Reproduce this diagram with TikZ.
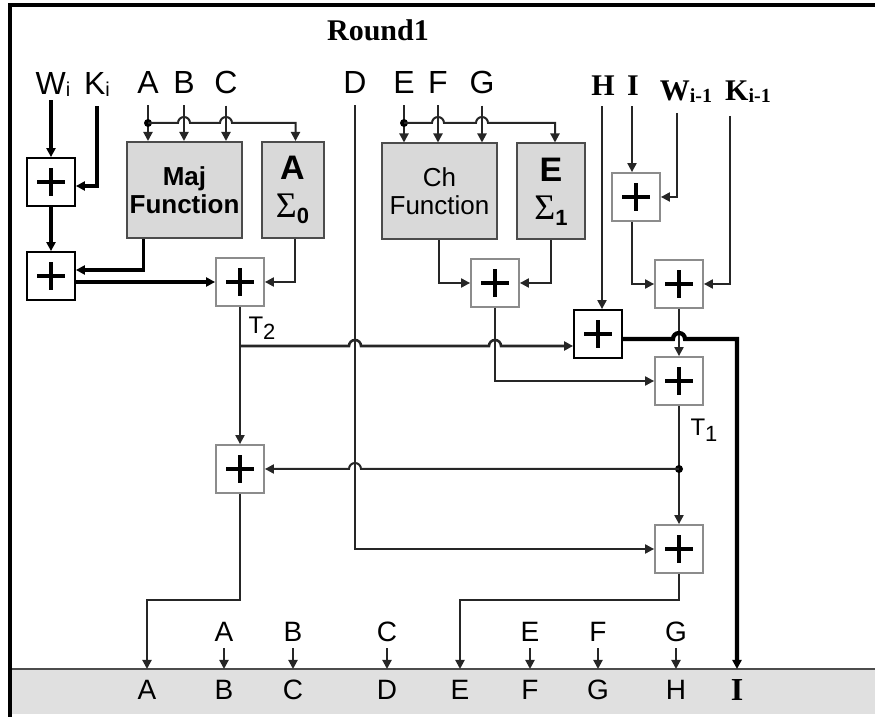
\documentclass[tikz,border=0pt]{standalone}
\usepackage{fontspec}
\setmainfont{Liberation Serif}
\setsansfont{Liberation Sans}
\usetikzlibrary{positioning, arrows.meta, calc}

\newcommand{\hop}{arc[start angle=180, end angle=0, radius=3pt]}
\newcommand{\lowsub}[1]{\raisebox{-1pt}{\fontsize{10}{10}\selectfont #1}}
\newcommand{\tsub}[1]{\raisebox{-3pt}{\fontsize{11}{11}\selectfont #1}}

\tikzset{
	wire/.style={draw=black!85, line width=1pt},
	bus/.style={draw=black, line width=1.7pt},
	heavy/.style={draw=black, line width=2.1pt},
	adder/.style={draw=black!45, line width=0.9pt, fill=white, minimum width=24pt, minimum height=24pt, inner sep=0pt,
		path picture={\draw[line width=2pt, black]
			($(path picture bounding box.center)+(-7pt,0pt)$) -- ++(14pt,0pt)
			($(path picture bounding box.center)+(0pt,-7pt)$) -- ++(0pt,14pt);}},
	adderk/.style={adder, draw=black},
	funcbox/.style={draw=black!70, line width=1pt, fill=black!15, align=center, inner sep=1pt,
		minimum width=57.5pt, minimum height=48pt, font=\sffamily\fontsize{13}{14}\selectfont},
	sigbox/.style={funcbox, minimum width=31pt},
	lbl/.style={font=\sffamily\fontsize{16}{16}\selectfont, inner sep=2pt},
	serlbl/.style={font=\bfseries\fontsize{13}{13}\selectfont, inner sep=2pt},
	outlbl/.style={font=\sffamily\fontsize{14}{14}\selectfont, inner sep=3pt},
	tlbl/.style={font=\sffamily\fontsize{12}{12}\selectfont, inner sep=0pt},
	title/.style={font=\bfseries\fontsize{15}{15}\selectfont}
}

\begin{document}
\begin{tikzpicture}[x=0.5pt, y=-0.5pt, >={Triangle[length=4.5pt, width=4.5pt]}]
	\useasboundingbox (0,0) rectangle (875,717);

	% Rahmen und Ausgabeband
	\fill[black!12] (10,669) rectangle (875,714);
	\coordinate (bandtop) at (0,669);
	\draw[black!70, line width=0.8pt] (10,669) -- (875,669);
	\draw[line width=2pt] (8,5) -- (875,5);
	\draw[line width=2pt] (10,5) -- (10,717);

	\node[title] (round) at (378,30) {Round1};

	% Eingaenge
	\node[lbl] (inW) at (53,84) {W\lowsub{i}};
	\node[lbl] (inK) at (97,84) {K\lowsub{i}};
	\node[lbl] (inA) at (148,82) {A};
	\node[lbl] (inB) at (184,82) {B};
	\node[lbl] (inC) at (226,82) {C};
	\node[lbl] (inD) at (355,82) {D};
	\node[lbl] (inE) at (404,82) {E};
	\node[lbl] (inF) at (438,82) {F};
	\node[lbl] (inG) at (482,82) {G};
	\node[serlbl] (inH) at (603,86) {\fontsize{15}{15}\selectfont H};
	\node[serlbl] (inI) at (633,86) {\fontsize{15}{15}\selectfont I};
	\node[serlbl] (inWm) at (686,92) {\fontsize{15}{15}\selectfont W\lowsub{i-1}};
	\node[serlbl] (inKm) at (748,92) {\fontsize{15}{15}\selectfont K\lowsub{i-1}};
	\coordinate (wmtop) at (677,113);
	\coordinate (kmtop) at (730,116);

	% Funktionsbloecke
	\node[funcbox, font=\sffamily\bfseries\fontsize{13}{14}\selectfont] (maj) at (184.5,190) {Maj\\Function};
	\node[sigbox] (sig0) at (292.5,190) {{\bfseries\fontsize{17}{17}\selectfont A}\\[5pt]{\rmfamily\fontsize{18}{18}\selectfont Σ}\tsub{\bfseries 0}};
	\node[funcbox] (ch) at (439.5,191.5) {Ch\\Function};
	\node[sigbox, minimum width=34pt] (sig1) at (551,191.5) {{\bfseries\fontsize{17}{17}\selectfont E}\\[5pt]{\rmfamily\fontsize{18}{18}\selectfont Σ}\tsub{\bfseries 1}};

	% Addierer
	\node[adderk] (add1) at (51,182) {};
	\node[adderk] (add2) at (51,276) {};
	\node[adder] (add3) at (240,282) {};
	\node[adder] (add4) at (495,283) {};
	\node[adder] (addIW) at (636,197) {};
	\node[adder] (addIWK) at (679,284) {};
	\node[adderk] (add5) at (598,334) {};
	\node[adder] (addT1) at (679,381) {};
	\node[adder] (add6) at (240,469) {};
	\node[adder] (add8) at (679,549) {};

	\node[tlbl] (lT2) at (262,328) {T\tsub{2}};
	\node[tlbl] (lT1) at (704,430) {T\tsub{1}};

	% Ausgaenge
	\foreach \n/\x in {A/147, B/224, C/293, D/387, E/460, F/530, G/598, H/676} {
		\node[outlbl] (out\n) at (\x,690) {\n};
	}
	\node[outlbl, font=\bfseries\fontsize{16}{16}\selectfont] (outI) at (737,690) {I};
	\foreach \n/\x in {A/224, B/293, C/387, E/530, F/598, G/676} {
		\node[outlbl] (s\n) at (\x,632) {\n};
		\draw[wire, ->] (s\n.south) -- (s\n |- bandtop);
	}

	% W und K links
	\draw[bus, ->] (add1 |- inW.south) -- (add1.north);
	\draw[bus, ->] ($(inK.south)+(0,6)$) |- ($(add1.east)+(0,4)$);
	\draw[bus, ->] (add1.south) -- (add2.north);
	\draw[bus, ->] ($(maj.south)+(-41,0)$) |- ($(add2.east)+(0,-6)$);
	\draw[bus, ->] ($(add2.east)+(0,6)$) -- (add3.west);
	\draw[wire, ->] ($(sig0.south)+(2,0)$) |- (add3.east);

	% Verteilung A, B, C
	\coordinate (tapA) at (148,123);
	\foreach \n in {A,B,C} {
		\draw[wire, ->] ($(in\n.south)+(0,8)$) -- (in\n |- maj.north);
	}
	\fill (tapA) circle (2pt);
	\draw[wire, ->] (tapA) -- ($(inB |- tapA)+(-6,0)$) \hop -- ($(inC |- tapA)+(-6,0)$) \hop -| ($(sig0.north)+(3,0)$);

	% Verteilung E, F, G
	\coordinate (tapE) at (404,123);
	\foreach \n in {E,F,G} {
		\draw[wire, ->] ($(in\n.south)+(0,8)$) -- (in\n |- ch.north);
	}
	\fill (tapE) circle (2pt);
	\draw[wire, ->] (tapE) -- ($(inF |- tapE)+(-6,0)$) \hop -- ($(inG |- tapE)+(-6,0)$) \hop -| ($(sig1.north)+(4,0)$);

	\draw[wire, ->] ($(ch.south)+(-1,0)$) |- (add4.west);
	\draw[wire, ->] (sig1.south) |- (add4.east);

	% rechte Seite
	\draw[wire, ->] ($(add5 |- inH.south)+(4,6)$) -- ($(add5.north)+(4,0)$);
	\draw[wire, ->] ($(addIW |- inI.south)+(-4,6)$) -- ($(addIW.north)+(-4,0)$);
	\draw[wire, ->] (wmtop) |- (addIW.east);
	\draw[wire, ->] (kmtop) |- (addIWK.east);
	\draw[wire, ->] ($(addIW.south)+(-4,0)$) |- (addIWK.west);
	\draw[wire, ->] (addIWK.south) -- (addT1.north);

	% T2 Pfad
	\coordinate (t2) at (add3 |- 0,346);
	\draw[wire, ->] (add3.south) -- (add6.north);
	\draw[wire, line width=1.3pt, ->] (t2) -- ($(inD |- t2)+(-6,0)$) \hop -- ($(add4 |- t2)+(-6,0)$) \hop -- (add5.west |- t2);
	\draw[wire, ->] (add4.south) |- (addT1.west);

	% H-Ausgang nach I
	\coordinate (o5) at ($(add5.east)+(0,5)$);
	\draw[heavy, ->] (o5) -- ($(addT1 |- o5)+(-6,0)$) \hop -- (outI |- o5) -- (outI |- bandtop);

	% T1 Pfad
	\draw[wire, ->] (addT1.south) -- (add8.north);
	\coordinate (t1dot) at (addT1 |- add6);
	\fill (t1dot) circle (2pt);
	\draw[wire, ->] (t1dot) -- ($(inD |- t1dot)+(6,0)$) arc[start angle=0, end angle=180, radius=3pt] -- (add6.east);
	\draw[wire, ->] ($(inD.south)+(0,8)$) |- (add8.west);

	% zu den Ausgaengen
	\coordinate (turn) at (0,600);
	\draw[wire, ->] (add6.south) -- (add6 |- turn) -| (outA |- bandtop);
	\draw[wire, ->] (add8.south) -- (add8 |- turn) -| (outE |- bandtop);
\end{tikzpicture}
\end{document}
